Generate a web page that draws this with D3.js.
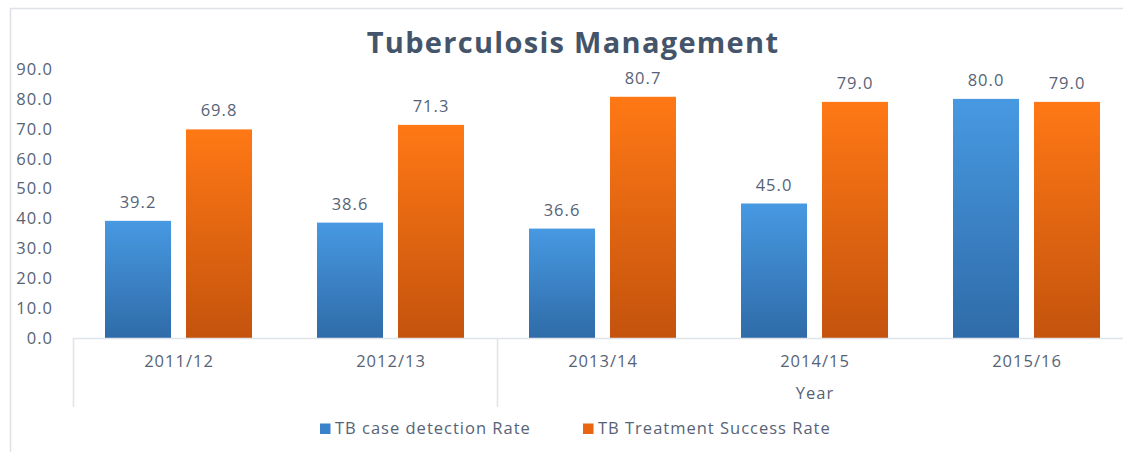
<!DOCTYPE html>
<html>
<head>
<meta charset="utf-8">
<script src="https://cdn.jsdelivr.net/npm/d3@7"></script>
<style>
  body { margin: 0; background: #fff; }
  svg { display: block; font-family: "Open Sans", sans-serif; }
</style>
</head>
<body>
<script>
var width = 1123;
var height = 452;

// data
var years = ["2011/12", "2012/13", "2013/14", "2014/15", "2015/16"];
var detection = [39.2, 38.6, 36.6, 45.0, 80.0];
var success = [69.8, 71.3, 80.7, 79.0, 79.0];
var seriesNames = ["TB case detection Rate", "TB Treatment Success Rate"];
var yTicks = [0, 10, 20, 30, 40, 50, 60, 70, 80, 90];
// second level of category axis
var groups = [{ label: "", from: 0, to: 1 }, { label: "Year", from: 2, to: 4 }];

var textCol = "#44546a";
var tickCol = "#566377";
var fs = 16.5, ls = 1;

var svg = d3.select("body").append("svg").attr("width", width).attr("height", height);

var defs = svg.append("defs");
function grad(id, top, bottom) {
  var g = defs.append("linearGradient").attr("id", id)
    .attr("x1", 0).attr("y1", 0).attr("x2", 0).attr("y2", 1);
  g.append("stop").attr("offset", "0%").attr("stop-color", top);
  g.append("stop").attr("offset", "100%").attr("stop-color", bottom);
}
grad("gBlue", "#4799e2", "#2f6ba8");
grad("gOrange", "#ff7815", "#c4530d");
var fills = ["url(#gBlue)", "url(#gOrange)"];
var legendFills = ["#3a82c9", "#e9650f"];

// frame
svg.append("rect").attr("x", 10.5).attr("y", 8.5).attr("width", 1200).attr("height", 500)
  .attr("fill", "none").attr("stroke", "#dde1e6").attr("stroke-width", 1.5);

// title
svg.append("text").attr("x", 573).attr("y", 53).attr("text-anchor", "middle")
  .attr("font-size", 29).attr("font-weight", "bold").attr("fill", textCol)
  .attr("letter-spacing", 1.3)
  .text("Tuberculosis Management");

var plotLeft = 73, bandW = 212;
var x = d3.scaleBand().domain(years).range([plotLeft, plotLeft + bandW * years.length]).paddingInner(0).paddingOuter(0);
var y = d3.scaleLinear().domain([0, 90]).range([338, 69]);
var x1 = d3.scaleBand().domain([0, 1]).range([32, 179]).paddingInner(0.185);

// y axis labels
svg.append("g").selectAll("text").data(yTicks).enter().append("text")
  .attr("x", 53).attr("y", function (d) { return y(d); }).attr("dy", "0.36em")
  .attr("text-anchor", "end").attr("font-size", fs).attr("letter-spacing", ls).attr("fill", tickCol)
  .text(function (d) { return d.toFixed(1); });

// bars
var cat = svg.append("g").selectAll("g").data(years).enter().append("g")
  .attr("transform", function (d) { return "translate(" + x(d) + ",0)"; });

cat.selectAll("rect").data(function (d, i) { return [detection[i], success[i]]; }).enter().append("rect")
  .attr("x", function (d, j) { return x1(j); })
  .attr("y", function (d) { return y(d); })
  .attr("width", x1.bandwidth())
  .attr("height", function (d) { return y(0) - y(d); })
  .attr("fill", function (d, j) { return fills[j]; });

cat.selectAll("text").data(function (d, i) { return [detection[i], success[i]]; }).enter().append("text")
  .attr("x", function (d, j) { return x1(j) + x1.bandwidth() / 2; })
  .attr("y", function (d) { return y(d) - 13; })
  .attr("text-anchor", "middle").attr("font-size", fs).attr("letter-spacing", ls).attr("fill", tickCol)
  .text(function (d) { return d.toFixed(1); });

// category axis
var axisCol = "#dfe3ea";
svg.append("line").attr("x1", plotLeft).attr("x2", plotLeft + bandW * years.length)
  .attr("y1", 338.5).attr("y2", 338.5).attr("stroke", axisCol).attr("stroke-width", 1.5);

svg.append("g").selectAll("text").data(years).enter().append("text")
  .attr("x", function (d) { return x(d) + bandW / 2; }).attr("y", 367)
  .attr("text-anchor", "middle").attr("font-size", fs).attr("letter-spacing", ls).attr("fill", tickCol)
  .text(function (d) { return d; });

var bounds = [x(years[0])];
groups.forEach(function (g) { bounds.push(x(years[g.to]) + bandW); });
svg.append("g").selectAll("line").data(bounds).enter().append("line")
  .attr("x1", function (d) { return d + 0.5; }).attr("x2", function (d) { return d + 0.5; })
  .attr("y1", 338).attr("y2", 407).attr("stroke", axisCol).attr("stroke-width", 1.5);

svg.append("g").selectAll("text").data(groups).enter().append("text")
  .attr("x", function (g) { return (x(years[g.from]) + x(years[g.to]) + bandW) / 2; })
  .attr("y", 399).attr("text-anchor", "middle").attr("font-size", fs).attr("letter-spacing", ls).attr("fill", tickCol)
  .text(function (g) { return g.label; });

// legend
var legendX = [320, 583];
var lg = svg.append("g").selectAll("g").data(seriesNames).enter().append("g")
  .attr("transform", function (d, i) { return "translate(" + legendX[i] + ",0)"; });
lg.append("rect").attr("x", 0).attr("y", 423.5).attr("width", 10.5).attr("height", 10.5)
  .attr("fill", function (d, i) { return legendFills[i]; });
lg.append("text").attr("x", 15).attr("y", 434).attr("font-size", fs).attr("letter-spacing", ls).attr("fill", tickCol)
  .text(function (d) { return d; });
</script>
</body>
</html>
